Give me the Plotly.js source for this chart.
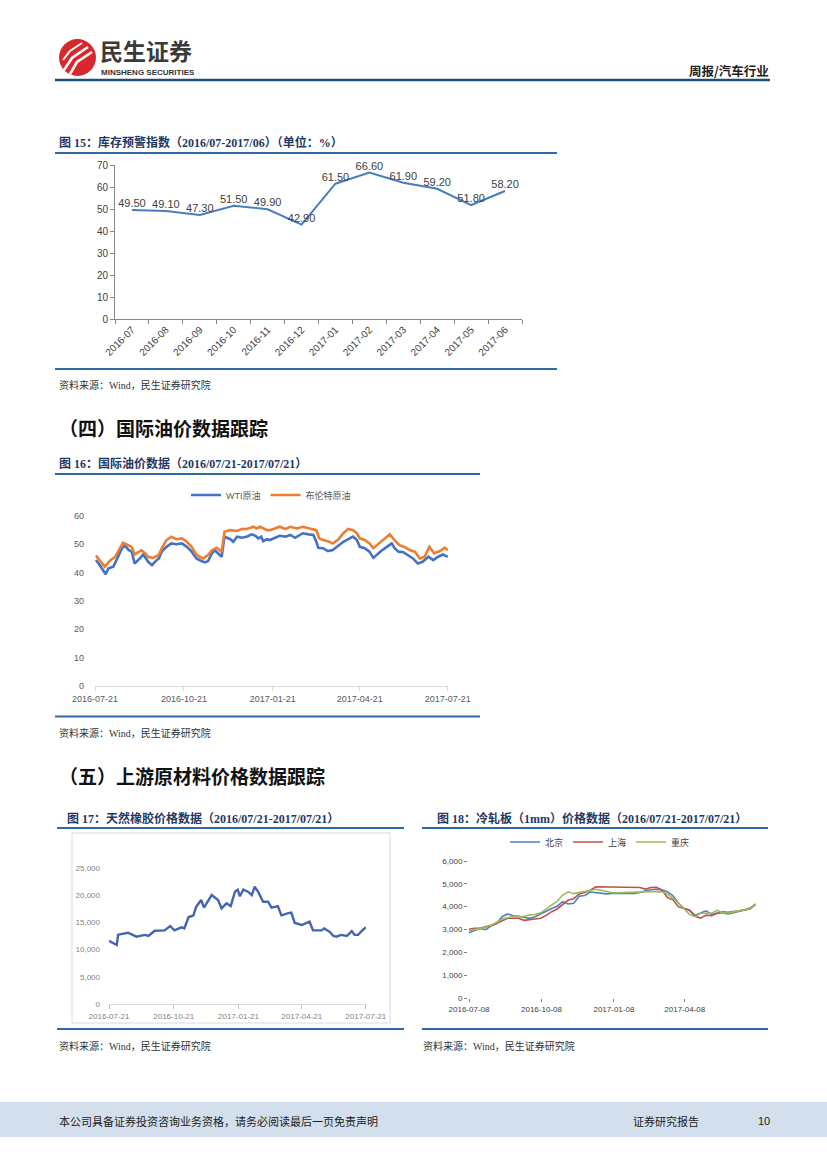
<!DOCTYPE html>
<html><head><meta charset="utf-8">
<script src="https://cdn.plot.ly/plotly-3.0.1.min.js"></script>
<style>html,body{margin:0;padding:0;background:#fff}#chart{width:827px;height:1169px}</style>
</head><body><div id="chart"></div>
<script>
// ---------- Data ----------
// 图15 库存预警指数
const invMonths = ['2016-07','2016-08','2016-09','2016-10','2016-11','2016-12','2017-01','2017-02','2017-03','2017-04','2017-05','2017-06'];
const invValues = [49.5,49.1,47.3,51.5,49.9,42.9,61.5,66.6,61.9,59.2,51.8,58.2];

// 图16 国际油价
const wtiDates = ['2016-07-22','2016-07-26','2016-08-01','2016-08-04','2016-08-09','2016-08-14','2016-08-18','2016-08-21','2016-08-25','2016-08-28','2016-08-31','2016-09-06','2016-09-09','2016-09-14','2016-09-18','2016-09-21','2016-09-25','2016-09-28','2016-10-03','2016-10-08','2016-10-13','2016-10-19','2016-10-24','2016-10-29','2016-11-03','2016-11-08','2016-11-12','2016-11-15','2016-11-19','2016-11-22','2016-11-26','2016-11-29','2016-12-02','2016-12-08','2016-12-11','2016-12-15','2016-12-20','2016-12-25','2016-12-30','2017-01-03','2017-01-06','2017-01-09','2017-01-11','2017-01-15','2017-01-18','2017-01-23','2017-01-28','2017-02-03','2017-02-08','2017-02-13','2017-02-18','2017-02-21','2017-02-27','2017-03-04','2017-03-07','2017-03-09','2017-03-14','2017-03-19','2017-03-24','2017-03-30','2017-04-04','2017-04-09','2017-04-14','2017-04-18','2017-04-21','2017-04-26','2017-05-01','2017-05-05','2017-05-08','2017-05-13','2017-05-19','2017-05-24','2017-05-27','2017-05-31','2017-06-05','2017-06-10','2017-06-15','2017-06-20','2017-06-25','2017-07-01','2017-07-06','2017-07-11','2017-07-16','2017-07-21'];
const wtiValues = [44.4,42.6,39.4,41.5,42.1,45.6,48.6,49.5,47.9,47.4,43.2,45.2,46.4,43.8,42.6,43.8,45.0,47.4,49.1,50.3,50.0,50.3,49.1,47.4,45.0,44.1,43.6,44.1,46.8,47.9,46.4,45.6,52.7,51.8,50.9,52.7,52.3,52.7,53.5,53.0,52.1,52.7,51.1,51.8,51.5,52.3,53.0,52.7,53.3,52.3,53.3,53.9,53.5,53.3,50.9,48.8,48.6,47.6,48.0,49.7,50.9,51.8,52.7,51.5,49.1,48.6,47.4,45.2,46.2,47.6,49.1,50.3,48.6,47.4,47.2,46.0,45.0,43.2,43.8,45.6,44.4,45.6,46.4,45.6];
const brentDates = ['2016-07-22','2016-07-31','2016-08-06','2016-08-11','2016-08-19','2016-08-25','2016-08-28','2016-08-31','2016-09-07','2016-09-11','2016-09-14','2016-09-19','2016-09-25','2016-09-28','2016-10-03','2016-10-08','2016-10-13','2016-10-19','2016-10-24','2016-10-29','2016-11-03','2016-11-10','2016-11-15','2016-11-19','2016-11-24','2016-11-29','2016-12-02','2016-12-08','2016-12-15','2016-12-20','2016-12-25','2017-01-01','2017-01-04','2017-01-08','2017-01-15','2017-01-18','2017-01-23','2017-01-28','2017-02-03','2017-02-08','2017-02-15','2017-02-21','2017-02-28','2017-03-07','2017-03-10','2017-03-14','2017-03-19','2017-03-24','2017-03-30','2017-04-04','2017-04-09','2017-04-14','2017-04-18','2017-04-21','2017-04-26','2017-05-01','2017-05-05','2017-05-08','2017-05-13','2017-05-19','2017-05-22','2017-05-27','2017-06-01','2017-06-06','2017-06-12','2017-06-17','2017-06-22','2017-06-27','2017-07-02','2017-07-07','2017-07-13','2017-07-18','2017-07-21'];
const brentValues = [46.0,42.1,44.4,45.6,50.6,49.7,49.1,46.4,47.9,46.8,45.6,45.2,46.2,48.6,51.5,52.7,51.8,52.1,50.9,49.1,46.2,45.0,46.2,47.9,48.8,47.4,54.4,55.0,54.7,55.4,55.4,56.2,55.6,56.2,55.0,55.0,55.6,56.2,55.4,56.2,55.6,56.2,55.6,55.0,52.1,51.5,51.1,50.3,51.8,53.9,55.4,55.0,53.9,52.1,51.5,50.3,48.6,49.5,50.9,52.7,53.5,51.5,49.7,49.1,47.9,47.4,45.0,45.6,49.1,46.8,47.6,48.8,47.9];
const oilNames = ['WTI原油','布伦特原油'];
const oilTickVals = ['2016-07-21','2016-10-21','2017-01-21','2017-04-21','2017-07-21'];

// 图17 天然橡胶
const rubberDates = ['2016-07-21','2016-08-01','2016-08-03','2016-08-17','2016-08-29','2016-09-10','2016-09-15','2016-09-24','2016-10-08','2016-10-16','2016-10-22','2016-11-01','2016-11-05','2016-11-11','2016-11-18','2016-11-22','2016-11-29','2016-12-03','2016-12-14','2016-12-23','2016-12-28','2017-01-04','2017-01-10','2017-01-16','2017-01-20','2017-01-23','2017-01-28','2017-02-04','2017-02-09','2017-02-13','2017-02-18','2017-02-25','2017-03-04','2017-03-09','2017-03-18','2017-03-23','2017-04-02','2017-04-06','2017-04-11','2017-04-21','2017-05-02','2017-05-07','2017-05-19','2017-05-23','2017-05-31','2017-06-05','2017-06-09','2017-06-16','2017-06-24','2017-07-01','2017-07-05','2017-07-10','2017-07-17','2017-07-21'];
const rubberValues = [11600,10850,12740,13100,12370,12700,12500,13470,13530,14340,13530,14100,13900,15940,16300,17890,19120,17700,20040,19120,17590,18500,18000,20640,21000,19800,21050,20600,20000,21560,20600,18800,18800,17700,18000,16300,16700,16800,14900,14520,15130,13530,13530,13900,13220,12500,12370,12700,12500,13400,12700,12700,13650,14100];
const rubberTickVals = ['2016-07-21','2016-10-21','2017-01-21','2017-04-21','2017-07-21'];

// 图18 冷轧板(1mm)
const steelDates = ['2016-07-08','2016-07-15','2016-07-22','2016-07-29','2016-08-05','2016-08-12','2016-08-19','2016-08-26','2016-09-02','2016-09-09','2016-09-16','2016-09-23','2016-09-30','2016-10-07','2016-10-14','2016-10-21','2016-10-28','2016-11-04','2016-11-11','2016-11-18','2016-11-25','2016-12-02','2016-12-09','2016-12-16','2016-12-23','2016-12-30','2017-01-06','2017-01-13','2017-01-20','2017-01-27','2017-02-03','2017-02-10','2017-02-17','2017-02-24','2017-03-03','2017-03-10','2017-03-17','2017-03-24','2017-03-31','2017-04-07','2017-04-14','2017-04-21','2017-04-28','2017-05-05','2017-05-12','2017-05-19','2017-05-26','2017-06-02','2017-06-09','2017-06-16','2017-06-23','2017-06-30','2017-07-07'];
const beijing = [2860,2950,3050,2990,3150,3260,3560,3680,3600,3580,3520,3490,3560,3690,3800,3920,4020,4220,4120,4150,4460,4490,4640,4620,4580,4560,4580,4580,4580,4580,4580,4620,4700,4740,4760,4730,4650,4480,4160,3920,3840,3620,3710,3820,3660,3720,3720,3680,3730,3800,3860,3900,4100];
const shanghai = [3010,3050,3050,3100,3180,3260,3390,3490,3490,3490,3400,3430,3470,3490,3620,3780,3900,4080,4290,4350,4560,4620,4720,4870,4870,4850,4850,4850,4850,4850,4850,4840,4770,4840,4850,4730,4400,4300,3990,3940,3860,3580,3500,3630,3600,3700,3770,3750,3780,3820,3850,3950,4110];
const chongqing = [2950,3000,3040,3100,3180,3300,3450,3520,3560,3560,3580,3640,3660,3730,3900,4050,4240,4510,4650,4570,4610,4680,4700,4760,4720,4660,4610,4610,4620,4650,4660,4660,4660,4660,4660,4650,4560,4380,4150,3900,3660,3560,3710,3710,3710,3840,3740,3720,3760,3830,3870,3920,4120];
const steelNames = ['北京','上海','重庆'];
const steelTickVals = ['2016-07-08','2016-10-08','2017-01-08','2017-04-08'];

// ---------- Helpers ----------
const W = 827, H = 1169;
const px = x => x / W, py = y => 1 - y / H;
const SERIF = 'Liberation Serif, Noto Sans CJK SC, serif';
const SANS = 'Liberation Sans, Noto Sans CJK SC, sans-serif';
const CJK = 'Noto Sans CJK SC, sans-serif';
const TITLE_C = '#1F3864';
const RULE_C = '#2E6AA6';

function T(text, x, y, font, extra) {
  return Object.assign({text: text, xref: 'paper', yref: 'paper', x: px(x), y: py(y),
    xanchor: 'left', yanchor: 'middle', showarrow: false, borderpad: 0, font: font}, extra || {});
}
function hline(x0, x1, y, color, w) {
  return {type: 'line', xref: 'paper', yref: 'paper', x0: px(x0), x1: px(x1), y0: py(y), y1: py(y),
    line: {color: color, width: w}};
}
function rect(x0, y0, x1, y1, fill, lineColor, lw) {
  return {type: 'rect', xref: 'paper', yref: 'paper', x0: px(x0), x1: px(x1), y0: py(y1), y1: py(y0),
    fillcolor: fill, line: {color: lineColor || 'rgba(0,0,0,0)', width: lw || 0}, layer: 'below'};
}
function pathPx(pts) {
  return pts.map((p, i) => (i ? 'L' : 'M') + px(p[0]).toFixed(5) + ',' + py(p[1]).toFixed(5)).join(' ');
}

// ---------- Traces ----------
const traces = [
  {type: 'scatter', mode: 'lines+text', x: invMonths, y: invValues,
   text: invValues.map(v => v.toFixed(2)), textposition: 'top center',
   textfont: {family: SANS, size: 11, color: '#404040'},
   line: {color: '#4A7EBB', width: 2}, xaxis: 'x', yaxis: 'y', showlegend: false, cliponaxis: false},
  {type: 'scatter', mode: 'lines', name: oilNames[0], x: wtiDates, y: wtiValues,
   line: {color: '#4472C4', width: 2.6}, xaxis: 'x2', yaxis: 'y2', legend: 'legend'},
  {type: 'scatter', mode: 'lines', name: oilNames[1], x: brentDates, y: brentValues,
   line: {color: '#ED7D31', width: 2.6}, xaxis: 'x2', yaxis: 'y2', legend: 'legend'},
  {type: 'scatter', mode: 'lines', x: rubberDates, y: rubberValues,
   line: {color: '#4266B0', width: 2.4}, xaxis: 'x3', yaxis: 'y3', showlegend: false},
  {type: 'scatter', mode: 'lines', name: steelNames[0], x: steelDates, y: beijing,
   line: {color: '#4F81BD', width: 1.6}, xaxis: 'x4', yaxis: 'y4', legend: 'legend2'},
  {type: 'scatter', mode: 'lines', name: steelNames[1], x: steelDates, y: shanghai,
   line: {color: '#C0504D', width: 1.6}, xaxis: 'x4', yaxis: 'y4', legend: 'legend2'},
  {type: 'scatter', mode: 'lines', name: steelNames[2], x: steelDates, y: chongqing,
   line: {color: '#9BBB59', width: 1.6}, xaxis: 'x4', yaxis: 'y4', legend: 'legend2'}
];

const tickFont = {family: SANS, size: 9, color: '#595959'};

const layout = {
  width: W, height: H, margin: {l: 0, r: 0, t: 0, b: 0},
  paper_bgcolor: '#fff', plot_bgcolor: 'rgba(0,0,0,0)', hovermode: false,
  font: {family: SANS},
  // 图15
  xaxis: {domain: [px(115), px(522)], anchor: 'y', type: 'category', range: [-0.5, 11.5],
    tickson: 'boundaries', ticks: 'outside', ticklen: 4, tickcolor: '#868686',
    showline: true, linecolor: '#868686', linewidth: 1, tickangle: -45, showgrid: false,
    tickfont: {family: SANS, size: 10, color: '#404040'}},
  yaxis: {domain: [py(319), py(165)], anchor: 'x', range: [0, 70], dtick: 10,
    showline: true, linecolor: '#868686', ticks: 'outside', ticklen: 4, tickcolor: '#868686',
    showgrid: false, zeroline: false, tickfont: {family: SANS, size: 10, color: '#404040'}},
  // 图16
  xaxis2: {domain: [px(95), px(448)], anchor: 'y2', type: 'date', range: ['2016-07-21', '2017-07-21 06:00'],
    tickmode: 'array', tickvals: oilTickVals, ticktext: oilTickVals, ticks: 'outside', ticklen: 4,
    tickcolor: '#D9D9D9', showline: true, linecolor: '#D9D9D9', showgrid: false, tickfont: tickFont},
  yaxis2: {domain: [py(685.7), py(516)], anchor: 'x2', range: [0, 60], dtick: 10, showline: false,
    showgrid: false, zeroline: false, ticks: '', ticklabelstandoff: 10, tickfont: tickFont},
  // 图17
  xaxis3: {domain: [px(109), px(366)], anchor: 'y3', type: 'date', range: ['2016-07-21', '2017-07-21 06:00'],
    tickmode: 'array', tickvals: rubberTickVals, ticktext: rubberTickVals, ticks: 'outside', ticklen: 4,
    tickcolor: '#BFBFBF', showline: true, linecolor: '#D9D9D9', showgrid: false,
    tickfont: {family: SANS, size: 8, color: '#7F7F7F'}},
  yaxis3: {domain: [py(1004), py(868)], anchor: 'x3', range: [0, 25000], dtick: 5000, tickformat: ',',
    showline: false, showgrid: false, zeroline: false, ticks: '', ticklabelstandoff: 8,
    tickfont: {family: SANS, size: 8, color: '#7F7F7F'}},
  // 图18
  xaxis4: {domain: [px(468), px(758)], anchor: 'y4', type: 'date', range: ['2016-07-06 17:00', '2017-07-10'],
    tickmode: 'array', tickvals: steelTickVals, ticktext: steelTickVals, ticks: 'outside', ticklen: 3,
    tickcolor: '#7F7F7F', showline: false, showgrid: false, zeroline: false,
    tickfont: {family: SANS, size: 8, color: '#404040'}},
  yaxis4: {domain: [py(998), py(861)], anchor: 'x4', range: [0, 6000], dtick: 1000, tickformat: ',',
    showline: false, showgrid: false, zeroline: false, ticks: 'outside', ticklen: 3, tickcolor: '#7F7F7F',
    tickfont: {family: SANS, size: 8, color: '#404040'}},
  legend: {orientation: 'h', x: px(271), y: py(495), xanchor: 'center', yanchor: 'middle',
    font: {family: SANS, size: 9, color: '#595959'}, bgcolor: 'rgba(0,0,0,0)', itemwidth: 30, tracegroupgap: 0},
  legend2: {orientation: 'h', x: px(600), y: py(842), xanchor: 'center', yanchor: 'middle',
    font: {family: SANS, size: 9, color: '#404040'}, bgcolor: 'rgba(0,0,0,0)', itemwidth: 30},
  shapes: [
    // footer band
    rect(0, 1102, 827, 1137, '#D3DFEC'),
    // chart 17 frame
    rect(72, 833, 390, 1023, 'rgba(0,0,0,0)', '#D9D9D9', 1),
    // header rule
    hline(55, 770, 80, '#1F4E79', 2.5),
    // figure rules
    hline(55, 557, 153, RULE_C, 2), hline(55, 557, 369, RULE_C, 2),
    hline(55, 480, 474, RULE_C, 2), hline(55, 480, 716.5, RULE_C, 2),
    hline(57, 404, 828, RULE_C, 2), hline(57, 404, 1029, RULE_C, 2),
    hline(422, 768, 828, RULE_C, 2), hline(422, 768, 1029, RULE_C, 2),
    // logo
    {type: 'circle', xref: 'paper', yref: 'paper', x0: px(59), x1: px(96), y0: py(76), y1: py(39),
      fillcolor: '#D9272E', line: {width: 0}},
    {type: 'path', xref: 'paper', yref: 'paper', path: pathPx([[64, 70], [72, 58], [88, 47]]),
      line: {color: '#fff', width: 2.6}},
    {type: 'path', xref: 'paper', yref: 'paper', path: pathPx([[70, 74], [77, 62], [92, 52]]),
      line: {color: '#fff', width: 2.6}},
    {type: 'path', xref: 'paper', yref: 'paper', path: pathPx([[63, 60], [70, 51], [82, 43]]),
      line: {color: '#fff', width: 2}}
  ],
  annotations: [
    T('<b>民生证券</b>', 99, 50, {family: CJK, size: 23, color: '#3A3A3A'}),
    T('<b>MINSHENG SECURITIES</b>', 100, 72.5, {family: 'Liberation Sans Narrow, Liberation Sans, sans-serif', size: 8, color: '#333'}),
    T('<b>周报/汽车行业</b>', 770, 70, {family: CJK, size: 12.5, color: '#222'}, {xanchor: 'right'}),

    T('<b>图 15：库存预警指数（2016/07-2017/06）（单位：%）</b>', 58, 143, {family: SERIF, size: 12, color: TITLE_C}),
    T('资料来源：Wind，民生证券研究院', 58, 385, {family: SERIF, size: 10, color: '#333'}),

    T('<b>（四）国际油价数据跟踪</b>', 58, 428, {family: CJK, size: 19, color: '#111'}),
    T('<b>图 16：国际油价数据（2016/07/21-2017/07/21）</b>', 58, 464, {family: SERIF, size: 12, color: TITLE_C}),
    T('资料来源：Wind，民生证券研究院', 58, 733, {family: SERIF, size: 10, color: '#333'}),

    T('<b>（五）上游原材料价格数据跟踪</b>', 58, 775, {family: CJK, size: 19, color: '#111'}),
    T('<b>图 17：天然橡胶价格数据（2016/07/21-2017/07/21）</b>', 66, 818, {family: SERIF, size: 12, color: TITLE_C}),
    T('资料来源：Wind，民生证券研究院', 58, 1046, {family: SERIF, size: 10, color: '#333'}),
    T('<b>图 18：冷轧板（1mm）价格数据（2016/07/21-2017/07/21）</b>', 436, 818, {family: SERIF, size: 12, color: TITLE_C}),
    T('资料来源：Wind，民生证券研究院', 422, 1046, {family: SERIF, size: 10, color: '#333'}),

    T('本公司具备证券投资咨询业务资格，请务必阅读最后一页免责声明', 58, 1121, {family: CJK, size: 11, color: '#222'}),
    T('证券研究报告', 632, 1121, {family: CJK, size: 11, color: '#222'}),
    T('10', 757, 1121, {family: SANS, size: 11, color: '#222'})
  ]
};

Plotly.newPlot('chart', traces, layout, {displayModeBar: false, staticPlot: true});
</script></body></html>
